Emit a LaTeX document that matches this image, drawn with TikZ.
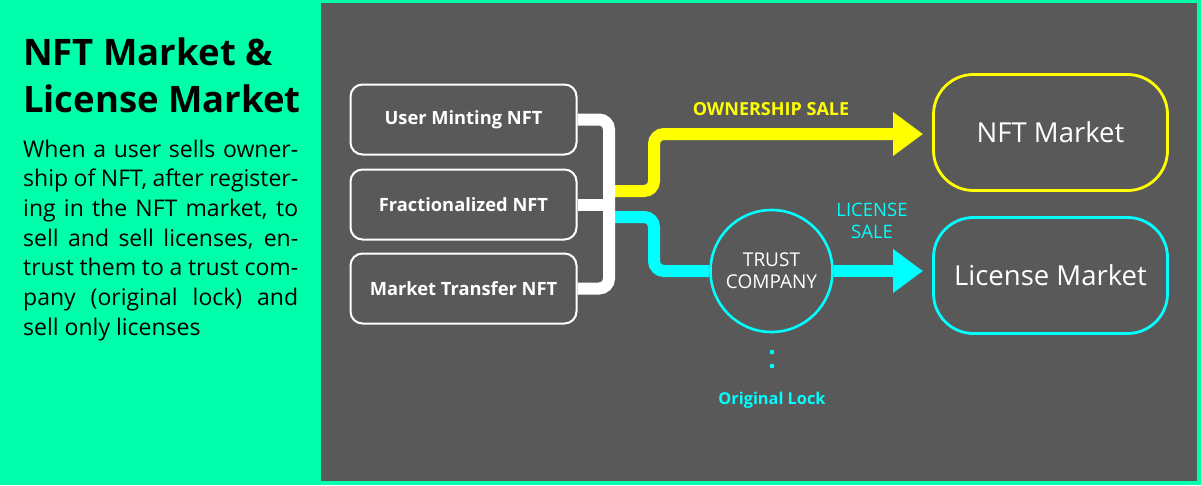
\documentclass[tikz,border=0pt]{standalone}
\usepackage{fontspec}
\setmainfont{Open Sans}
\usetikzlibrary{arrows.meta,calc}
\definecolor{bggreen}{HTML}{00FFAA}
\definecolor{panel}{HTML}{595959}
\definecolor{ylw}{HTML}{FFFF00}
\definecolor{cyn}{HTML}{00FFFF}
\tikzset{
  srcbox/.style={draw=white,line width=2pt,rounded corners=12pt,minimum width=226pt,minimum height=70pt,text=white,font=\fontsize{18.3}{20}\selectfont\bfseries},
  mktbox/.style={draw=#1,line width=2.8pt,rounded corners=40pt,minimum width=234pt,minimum height=116pt,text=white,font=\fontsize{27.5}{30}\selectfont},
  bus/.style={draw=white,line width=12pt,rounded corners=10pt},
  flow/.style={draw=#1,line width=12pt,rounded corners=10pt},
  tip/.style={-{Triangle[length=30pt,width=42pt]}},
  lbl/.style={text=#1,font=\fontsize{18}{22}\selectfont\bfseries,align=center},
  bodyline/.style={anchor=base west,inner sep=0pt,font=\fontsize{23}{24}\selectfont}
}
\newcommand{\jline}[1]{\makebox[275pt][s]{#1}}
\begin{document}
\begin{tikzpicture}[x=1pt,y=-1pt]
\fill[bggreen] (0,0) rectangle (1201,485);
\useasboundingbox (0,0) rectangle (1201,485);
\fill[panel] (321,3) rectangle (1197,481);
% left text
\node[anchor=base west,inner sep=0pt,font=\fontsize{36.5}{40}\selectfont\bfseries] (t1) at (23,65) {NFT Market \&};
\node[anchor=base west,inner sep=0pt,font=\fontsize{36.5}{40}\selectfont\bfseries] (t2) at (23,112) {License Market};
\node[bodyline] (l1) at (23,157) {\jline{When a user sells owner-}};
\node[bodyline] (l2) at (23,186.7) {\jline{ship of NFT, after register-}};
\node[bodyline] (l3) at (23,216.4) {\jline{ing in the NFT market, to}};
\node[bodyline] (l4) at (23,246.1) {\jline{sell and sell licenses, en-}};
\node[bodyline] (l5) at (23,275.8) {\jline{trust them to a trust com-}};
\node[bodyline] (l6) at (23,305.5) {\jline{pany (original lock) and}};
\node[bodyline] (l7) at (23,335.2) {sell only licenses};
% source boxes
\node[srcbox] (b1) at (463.5,119.5) {User Minting NFT};
\node[srcbox] (b2) at (463.5,204.5) {Fractionalized NFT};
\node[srcbox] (b3) at (463.5,288.5) {Market Transfer NFT};
\coordinate (busx) at (609,0);
\coordinate (riser) at (654,0);
\coordinate (tipx) at (923,0);
% markets
\node[mktbox=ylw] (nft) at (1050.5,132.5) {NFT Market};
\node[mktbox=cyn] (lic) at (1050.5,275.5) {License Market};
\node[circle,draw=cyn,line width=2.6pt,minimum size=122pt,text=white,align=center,font=\fontsize{19}{22}\selectfont] (tc) at (771.5,271) {TRUST\\COMPANY};
% flows (drawn under bus)
\coordinate (ys) at (609,191);
\coordinate (cs) at (609,217);
\draw[flow=ylw,tip] (ys) -- (ys -| riser) -- (riser |- 0,134) -- (tipx |- 0,134);
\draw[flow=cyn] (cs) -- (cs -| riser) -- (riser |- tc.west) -- (tc.west);
\draw[flow=cyn,tip] (tc.east) -- (tc.east -| tipx);
% bus
\draw[bus] (b1.east) -- (b1.east -| busx) -- (b3.east -| busx) -- (b3.east);
\draw[bus] (b2.east) -- (b2.east -| busx);
% labels
\node[lbl=ylw] (own) at (771,109) {OWNERSHIP SALE};
\node[lbl=cyn,font=\fontsize{18.5}{22}\selectfont] (ls) at (872,221) {LICENSE\\SALE};
\fill[cyn] (772,352) circle (2.3pt);
\fill[cyn] (772,366) circle (2.3pt);
\node[text=cyn,font=\fontsize{16.3}{17}\selectfont\bfseries] (ol) at (772,400) {Original Lock};
\end{tikzpicture}
\end{document}
